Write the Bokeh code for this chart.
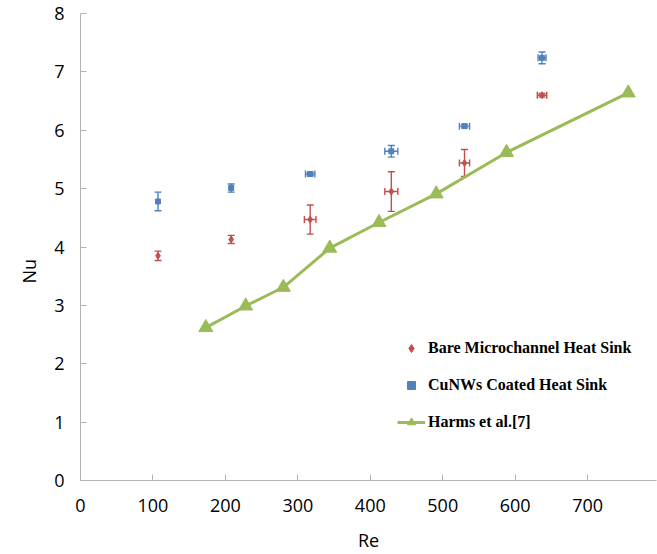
from bokeh.plotting import figure
from bokeh.models import (ColumnDataSource, Whisker, TeeHead, Legend, LegendItem,
                          Title, FixedTicker, Range1d)
from bokeh.embed import file_html
from bokeh.resources import INLINE

# ---- data ----
re_exp = [107, 208, 317, 429, 530, 637]
nu_bare = [3.85, 4.13, 4.47, 4.95, 5.44, 6.60]
nu_bare_err = [0.08, 0.07, 0.25, 0.34, 0.23, 0.03]
re_bare_err = [0, 0, 8, 9, 7, 6.5]
nu_cu = [4.78, 5.01, 5.25, 5.64, 6.07, 7.24]
nu_cu_err = [0.16, 0.07, 0.03, 0.10, 0.03, 0.10]
re_cu_err = [0, 0, 6.5, 9, 7, 5.5]
re_harms = [173, 228, 280, 344, 412, 491, 588, 756]
nu_harms = [2.62, 2.99, 3.31, 3.98, 4.42, 4.91, 5.62, 6.64]
x_ticks = [0, 100, 200, 300, 400, 500, 600, 700]
y_ticks = [0, 1, 2, 3, 4, 5, 6, 7, 8]

RED = "#C0504D"
BLUE = "#4F81BD"
GREEN = "#9BBB59"
AXIS = "#B3B3B3"

p = figure(width=657, height=554, output_backend="svg", toolbar_location=None,
           x_range=Range1d(0, 795), y_range=Range1d(0, 8),
           min_border_left=80, min_border_right=1, min_border_top=13, min_border_bottom=74)
p.outline_line_color = None
p.xgrid.visible = False
p.ygrid.visible = False
p.background_fill_color = "white"

for ax in (p.xaxis[0], p.yaxis[0]):
    ax.axis_line_color = AXIS
    ax.major_tick_line_color = AXIS
    ax.major_tick_in = 6
    ax.major_tick_out = 0
    ax.minor_tick_line_color = None
    ax.major_label_text_font = "Open Sans"
    ax.major_label_text_font_size = "18px"
    ax.major_label_text_color = "black"

p.xaxis.ticker = FixedTicker(ticks=x_ticks)
p.yaxis.ticker = FixedTicker(ticks=y_ticks)
p.xaxis.major_label_standoff = 18
p.yaxis.major_label_standoff = 16
p.xaxis.axis_label = "Re"
p.xaxis.axis_label_text_font = "Open Sans"
p.xaxis.axis_label_text_font_size = "18px"
p.xaxis.axis_label_text_font_style = "normal"
p.xaxis.axis_label_text_color = "black"
p.xaxis.axis_label_standoff = 13

# y-axis title, placed in the left panel
ytitle = Title(text="Nu", align="left", offset=197, text_font="Open Sans",
               text_font_size="18px", text_font_style="normal", text_color="black",
               standoff=21)
p.add_layout(ytitle, "left")


def whiskers(xs, ys, errs, color, dim):
    xb, lo, hi = [], [], []
    for x, y, e in zip(xs, ys, errs):
        if e <= 0:
            continue
        if dim == "height":
            xb.append(x); lo.append(y - e); hi.append(y + e)
        else:
            xb.append(y); lo.append(x - e); hi.append(x + e)
    src = ColumnDataSource(dict(base=xb, lower=lo, upper=hi))
    w = Whisker(source=src, base="base", lower="lower", upper="upper", dimension=dim,
                line_color=color, line_width=1.4,
                upper_head=TeeHead(size=7, line_color=color, line_width=1.4),
                lower_head=TeeHead(size=7, line_color=color, line_width=1.4))
    p.add_layout(w)


whiskers(re_exp, nu_bare, nu_bare_err, RED, "height")
whiskers(re_exp, nu_bare, re_bare_err, RED, "width")
whiskers(re_exp, nu_cu, nu_cu_err, BLUE, "height")
whiskers(re_exp, nu_cu, re_cu_err, BLUE, "width")

r_bare = p.scatter(re_exp, nu_bare, marker="diamond", size=7, color=RED)
r_cu = p.scatter(re_exp, nu_cu, marker="square", size=5, color=BLUE)
r_hl = p.line(re_harms, nu_harms, line_color=GREEN, line_width=3)
r_ht = p.scatter(re_harms, nu_harms, marker="triangle", size=14, color=GREEN)

legend = Legend(items=[
    LegendItem(label="Bare Microchannel Heat Sink", renderers=[r_bare]),
    LegendItem(label="CuNWs Coated Heat Sink", renderers=[r_cu]),
    LegendItem(label="Harms et al.[7]", renderers=[r_hl, r_ht]),
], location=(317, 48))
legend.border_line_color = None
legend.background_fill_alpha = 0
legend.padding = 0
legend.margin = 0
legend.spacing = 17
legend.glyph_height = 20
legend.glyph_width = 28
legend.label_height = 20
legend.label_standoff = 3
legend.label_text_font = "Liberation Serif"
legend.label_text_font_style = "bold"
legend.label_text_font_size = "16px"
legend.label_text_color = "black"
p.add_layout(legend)

open("out.html", "w").write(file_html(p, INLINE))
